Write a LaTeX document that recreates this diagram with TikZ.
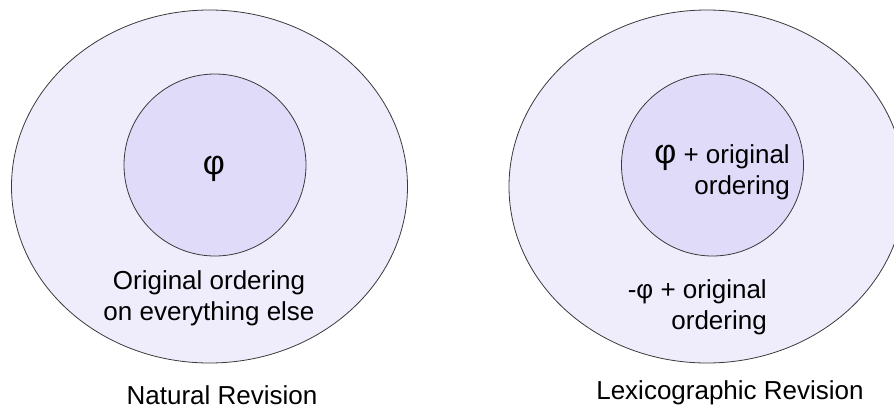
\documentclass[tikz,border=0pt]{standalone}
\usepackage{fontspec}
\setmainfont{Liberation Sans}
\usepackage{tikz}
\usetikzlibrary{shapes.geometric,positioning}

\definecolor{outerfill}{HTML}{EFECFC}
\definecolor{innerfill}{HTML}{DFDBF9}
\definecolor{edgegray}{HTML}{3A3A3A}

\tikzset{
  outerset/.style={draw=edgegray,line width=0.8pt,fill=outerfill,ellipse,minimum width=396pt,minimum height=353pt,inner sep=0pt},
  innerset/.style={draw=edgegray,line width=0.8pt,fill=innerfill,circle,minimum size=182pt,inner sep=0pt},
  lbl/.style={inner sep=0pt,font=\fontsize{26}{31}\selectfont},
}
\newcommand{\bigphi}{{\fontsize{34}{34}\selectfont φ}}

\begin{document}
\begin{tikzpicture}[x=1pt,y=-1pt]
  \useasboundingbox (0,0) rectangle (894,410);
  % natural revision
  \node[outerset] (natOuter) at (209.5,186.5) {};
  \node[innerset] (natInner) at (215,165) {};
  \node[lbl] (natPhi) at (214,169) {\bigphi};
  \node[lbl,align=center] (natRest) at (209,298) {Original ordering\\on everything else};
  \node[lbl] (natCap) at (222,395) {Natural Revision};
  % lexicographic revision
  \node[outerset] (lexOuter) at (707,186.5) {};
  \node[innerset] (lexInner) at (712.5,165) {};
  \node[lbl,align=right,anchor=east] (lexPhi) at (790,172) {\bigphi{} + original\\ordering};
  \node[lbl,align=right,anchor=east] (lexRest) at (767,307) {-φ + original\\ordering};
  \node[lbl] (lexCap) at (730,393) {Lexicographic Revision};
\end{tikzpicture}
\end{document}
